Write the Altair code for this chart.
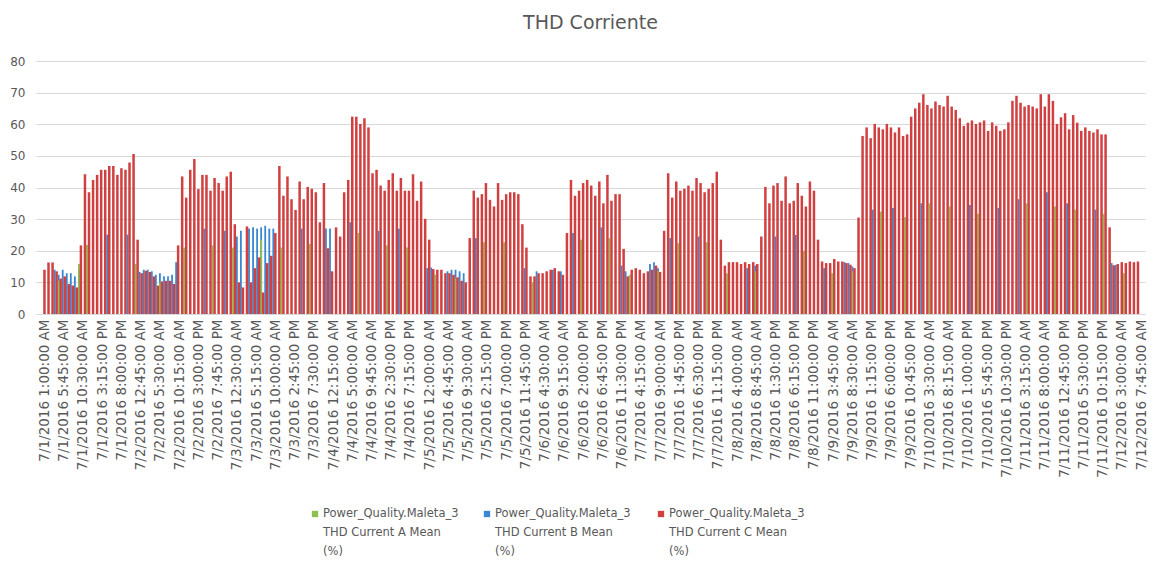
import json
import datetime
import altair as alt
import pandas as pd

# ---------------- data ----------------
# hourly samples, hour 0 = 7/1/2016 1:00 AM
red_c = [
    14.0, 16.3, 16.3, 13.5, 11.2, 11.9, 9.5, 9.0, 8.4, 21.7,
    44.2, 38.5, 42.4, 44.0, 45.6, 45.6, 46.8, 46.8, 44.0, 46.1,
    45.6, 47.9, 50.6, 23.5, 12.9, 13.7, 13.3, 11.9, 9.0, 10.3,
    10.5, 10.5, 9.5, 21.7, 43.5, 36.8, 45.6, 49.0, 39.5, 44.0,
    44.0, 39.0, 43.0, 41.4, 39.0,
    43.5, 45.0, 28.4, 10.0, 8.4, 27.7, 10.0, 14.5, 17.9, 6.8,
    16.1, 18.4, 25.6, 46.8, 37.4, 43.5, 36.3, 32.9, 41.9, 36.3,
    40.2, 39.6, 38.5, 29.0, 41.4, 20.8, 13.5, 27.4, 24.5, 38.5,
    42.4, 62.4, 62.4, 60.1, 61.9, 59.0, 44.5, 45.6, 40.6, 39.0,
    42.4, 44.5, 39.0, 43.0, 39.0,
    39.0, 44.2, 35.8, 41.9, 30.1, 23.5, 14.2, 14.0, 14.0, 12.9,
    12.9, 12.4, 11.6, 10.5, 10.0, 24.0, 39.0, 36.8, 37.9, 41.4,
    36.1, 34.0, 41.4, 36.1, 37.9, 38.5, 38.5, 37.9, 28.4, 21.0,
    11.9, 11.9, 12.9, 12.9, 13.5, 14.0, 14.5, 13.5, 12.4, 25.6,
    42.4, 37.4, 39.0, 41.4, 42.4,
    40.6, 37.4, 41.9, 35.0, 44.0, 35.8, 37.9, 37.9, 20.6, 11.9,
    14.0, 14.5, 14.0, 12.9, 13.5, 14.0, 15.3, 13.3, 26.3, 44.5,
    36.8, 41.9, 39.0, 39.6, 40.6, 39.0, 43.0, 41.4, 38.5, 39.6,
    41.4, 45.0, 23.5, 15.3, 16.4, 16.4, 16.4, 15.8, 16.4, 15.8,
    16.4, 15.8, 24.5, 40.2, 35.0,
    40.6, 41.4, 35.8, 43.5, 35.0, 35.8, 41.4, 37.4, 34.0, 41.9,
    39.0, 23.5, 16.6, 16.1, 16.1, 17.4, 16.6, 16.6, 16.1, 15.6,
    14.5, 30.5, 56.3, 59.0, 55.6, 60.1, 59.0, 58.4, 60.1, 59.0,
    57.4, 59.0, 56.3, 56.8, 62.4, 65.0, 66.8, 69.5, 66.1, 65.0,
    67.2, 66.1, 65.6, 69.0, 65.6,
    64.5, 61.9, 59.5, 60.5, 61.2, 60.1, 60.6, 61.2, 57.9, 60.6,
    59.5, 57.9, 58.4, 60.6, 67.4, 69.0, 66.8, 65.6, 66.1, 65.6,
    65.0, 69.5, 65.6, 69.5, 67.4, 60.1, 62.2, 63.5, 58.4, 62.9,
    60.5, 57.9, 59.0, 57.9, 57.4, 58.4, 56.8, 56.8, 27.4, 15.4,
    15.8, 16.4, 16.1, 16.6, 16.4, 16.6,
]

blue_hours = [3, 4, 5, 6, 7, 8, 9, 16, 21, 24, 25, 26, 27, 28, 29, 30, 31, 32, 33, 40,
              45, 48, 49, 51, 52, 53, 54, 55, 56, 57, 64, 70, 71, 76, 83, 88,
              95, 96, 100, 101, 102, 103, 104, 107, 119, 122, 126, 128, 131,
              138, 143, 144, 150, 151, 152, 155, 162, 174, 176,
              181, 186, 193, 198, 199, 200, 205, 210, 217,
              229, 236, 241, 248, 253, 260, 264, 265]
blue_b = [14.0, 12.4, 14.0, 12.9, 12.9, 11.9, 14.0, 25.1, 25.1, 13.3, 14.0, 14.0, 13.5, 12.4, 12.9, 11.9, 11.9, 12.4, 16.4, 27.0,
          26.3, 24.5, 26.3, 27.0, 27.4, 27.0, 27.4, 27.9, 27.0, 27.0, 27.0, 27.0, 27.0, 29.0, 26.3, 27.0,
          14.5, 14.7, 13.5, 14.0, 14.0, 13.5, 12.9, 24.0, 14.5, 13.5, 14.0, 13.5, 25.6,
          27.4, 15.3, 13.5, 15.8, 16.4, 14.5, 24.0, 24.5, 14.5, 15.3,
          24.5, 25.0, 14.5, 16.4, 16.1, 15.0, 33.0, 33.5, 35.0,
          34.5, 33.5, 36.3, 38.5, 35.0, 33.0, 16.1, 15.5]

green_hours = [4, 9, 11, 23, 29, 35, 42, 47, 54, 59, 66, 78, 85,
               90, 97, 102, 109, 114, 121, 133,
               140, 145, 152, 157, 164, 169, 176,
               188, 195, 200, 207, 213, 219, 224,
               231, 243, 250, 255, 262, 267]
green_a = [10.5, 15.8, 21.8, 15.8, 10.0, 21.0, 21.7, 21.0, 23.5, 21.0, 22.2, 25.6, 21.7,
           21.0, 12.4, 11.3, 22.7, 22.7, 10.0, 23.5,
           24.0, 12.4, 13.5, 22.4, 22.7, 12.9, 13.5,
           20.0, 12.9, 13.5, 32.4, 30.6, 35.0, 34.0,
           31.7, 35.0, 34.0, 33.0, 31.7, 12.9]

series_names = [
    "Power_Quality.Maleta_3\nTHD Current A Mean\n(%)",
    "Power_Quality.Maleta_3\nTHD Current B Mean\n(%)",
    "Power_Quality.Maleta_3\nTHD Current C Mean\n(%)",
]

# category labels shown on the axis: every 4 h 45 min from 7/1/2016 1:00 AM
label_step_hours = 4.75
_start = datetime.datetime(2016, 7, 1, 1, 0)
x_labels = []
for k in range(58):
    d = _start + datetime.timedelta(minutes=285 * k)
    h12 = d.hour % 12 or 12
    ampm = "AM" if d.hour < 12 else "PM"
    x_labels.append(f"{d.month}/{d.day}/{d.year} {h12}:{d.minute:02d}:00 {ampm}")
x_tick_hours = [label_step_hours * k for k in range(len(x_labels))]

y_ticks = list(range(0, 81, 10))

# ---------------- chart ----------------
GRAY = "#595959"
FONT = "DejaVu Sans"
RED, BLUE, GREEN = "#D04040", "#3A86D0", "#8DC04F"

df_c = pd.DataFrame({"h": list(range(len(red_c))), "v": red_c})
df_b = pd.DataFrame({"h": blue_hours, "v": blue_b})
df_a = pd.DataFrame({"h": green_hours, "v": green_a})

label_expr = f"{json.dumps(x_labels)}[round(datum.value / {label_step_hours})]"

x_enc = alt.X(
    "h:Q",
    scale=alt.Scale(domain=[-0.856, 270.5], nice=False, zero=False),
    axis=alt.Axis(
        values=x_tick_hours, labelExpr=label_expr, labelAngle=-90,
        labelOverlap=False, labelFlush=False, grid=False, ticks=False,
        domain=True, domainColor="#D9D9D9", labelColor=GRAY, labelFont=FONT,
        labelFontSize=13.5, labelPadding=5, title=None,
    ),
)
y_enc = alt.Y(
    "v:Q",
    scale=alt.Scale(domain=[0, 80], nice=False),
    axis=alt.Axis(
        values=y_ticks, grid=True, gridColor="#D9D9D9", gridWidth=1.2,
        domain=False, ticks=False, labelColor=GRAY, labelFont=FONT,
        labelFontSize=12, labelPadding=11, title=None,
    ),
)

blue_bars = alt.Chart(df_b).mark_bar(size=1.8, color=BLUE, xOffset=-2.0).encode(x=x_enc, y=y_enc)
green_bars = alt.Chart(df_a).mark_bar(size=1.8, color=GREEN, xOffset=-2.0).encode(x=x_enc, y=y_enc)
red_bars = alt.Chart(df_c).mark_bar(size=2.5, color=RED).encode(x=x_enc, y=y_enc)

legend_layers = []
for name, col, sx in zip(series_names, [GREEN, BLUE, RED], [279, 451, 625]):
    ldf = pd.DataFrame({"t": [name]})
    legend_layers.append(
        alt.Chart(ldf).mark_square(size=40, color=col, opacity=1).encode(
            x=alt.value(sx), y=alt.value(453))
    )
    legend_layers.append(
        alt.Chart(ldf).mark_text(
            align="left", baseline="top", lineBreak="\n", lineHeight=19,
            fontSize=11.5, font=FONT, color=GRAY,
        ).encode(x=alt.value(sx + 8), y=alt.value(447), text="t:N")
    )

chart = alt.layer(blue_bars, green_bars, red_bars, *legend_layers).properties(
    width=1109,
    height=253,
    padding={"left": 28, "top": 53, "right": 10, "bottom": 243},
    autosize=alt.AutoSizeParams(type="none"),
    title=alt.TitleParams(
        "THD Corriente", fontSize=19, font=FONT, fontWeight="normal",
        color=GRAY, anchor="middle", offset=22,
    ),
).configure_view(stroke=None)

chart.save("out.html", embed_options={"renderer": "svg", "actions": False})
